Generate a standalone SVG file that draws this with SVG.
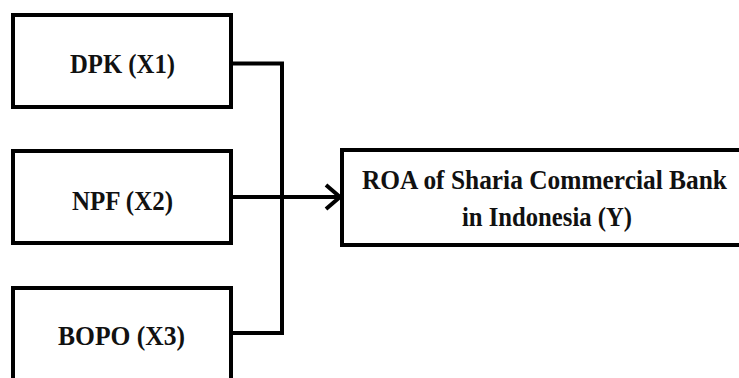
<svg xmlns="http://www.w3.org/2000/svg" width="739" height="378" viewBox="0 0 739 378">
<style>
.box{fill:#fff;stroke:#000;stroke-width:4}
.lbl{font-family:"Liberation Serif","Times New Roman",serif;font-weight:bold;font-size:27px;fill:#111;text-anchor:middle}
.con{fill:none;stroke:#000;stroke-width:4}
</style>
<rect width="739" height="378" fill="#fff"/>
<g id="connectors">
<path class="con" d="M231 63.5 H282 V333 H231"/>
<path class="con" d="M231 197 H340"/>
<path class="con" d="M326 185 L340 197 L326 209" stroke-width="3.5"/>
</g>
<g id="dpk">
<rect class="box" x="13" y="15" width="218" height="92"/>
<text class="lbl" x="122.5" y="73" textLength="105" lengthAdjust="spacingAndGlyphs">DPK (X1)</text>
</g>
<g id="npf">
<rect class="box" x="13" y="151" width="218" height="92"/>
<text class="lbl" x="122.5" y="210" textLength="101" lengthAdjust="spacingAndGlyphs">NPF (X2)</text>
</g>
<g id="bopo">
<rect class="box" x="13" y="288" width="218" height="100"/>
<text class="lbl" x="121.5" y="345" textLength="127" lengthAdjust="spacingAndGlyphs">BOPO (X3)</text>
</g>
<g id="roa">
<rect class="box" x="342" y="150" width="410" height="95"/>
<text class="lbl" x="544.5" y="189" textLength="365" lengthAdjust="spacingAndGlyphs">ROA of Sharia Commercial Bank</text>
<text class="lbl" x="547" y="226" textLength="170" lengthAdjust="spacingAndGlyphs">in Indonesia (Y)</text>
</g>
</svg>
